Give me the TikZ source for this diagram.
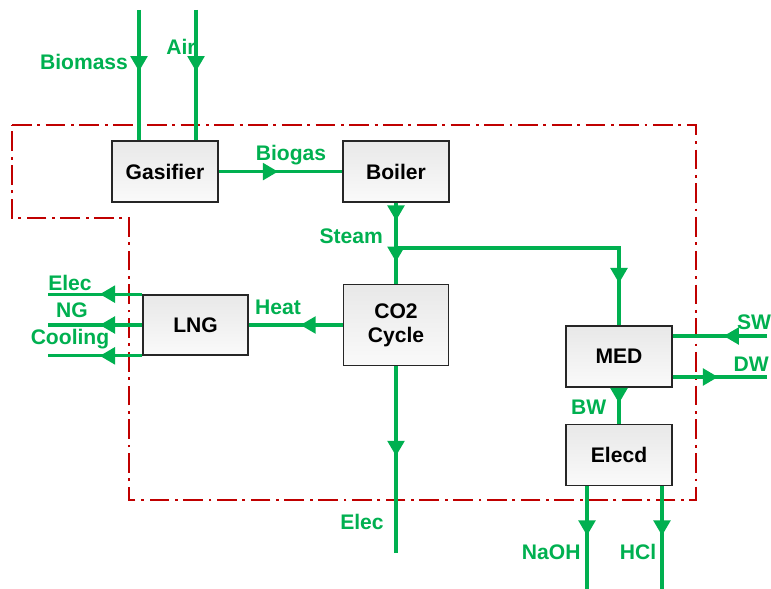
\documentclass[tikz,border=0pt]{standalone}
\usepackage{fontspec}
\setmainfont{Liberation Sans}
\definecolor{flowgreen}{RGB}{0,176,80}
\definecolor{bndred}{RGB}{192,0,0}
\usetikzlibrary{arrows.meta,positioning,calc,decorations.markings}

\begin{document}
\begin{tikzpicture}[every node/.style={font=\bfseries\fontsize{15}{17}\selectfont},
    unit/.style={draw=black!85,line width=1.2pt,top color=black!9,bottom color=black!2,
                 minimum width=2.65cm,minimum height=1.52cm,inner sep=0pt,align=center},
    flow/.style={flowgreen,line width=2.2pt},
    tip/.style={postaction={decorate,decoration={markings,
                mark=at position #1 with {\arrow{Triangle[length=0.38cm,width=0.42cm]}}}}},
    lbl/.style={text=flowgreen,inner sep=0pt},
    bound/.style={bndred,line width=1.4pt,dash pattern=on 14pt off 4pt on 2pt off 4pt}]

  \useasboundingbox (0,0) rectangle (19.275,-14.725);

  % system boundary
  \draw[bound] (0.3,-3.125) -- (17.4,-3.125) -- (17.4,-12.5) -- (3.225,-12.5)
        -- (3.225,-5.45) -- (0.3,-5.45) -- cycle;

  \node[unit] (gas)    at (4.125,-4.29)  {Gasifier};
  \node[unit] (boiler) at (9.9,-4.29)    {Boiler};
  \node[unit,minimum width=2.625cm,minimum height=1.5cm] (lng) at (4.89,-8.125) {LNG};
  \node[unit,minimum width=2.625cm,minimum height=2.03cm] (co2) at (9.9,-8.125) {CO2\\Cycle};
  \node[unit] (med)    at (15.475,-8.91)  {MED};
  \node[unit] (elecd)  at (15.475,-11.375) {Elecd};

  % free ends
  \coordinate (bioin)  at (3.475,-0.25);
  \coordinate (airin)  at (4.9,-0.25);
  \coordinate (split)  at (9.9,-6.2);
  \coordinate (lngout) at (1.2,-8.125);
  \coordinate (elecout) at (9.9,-13.825);
  \coordinate (swin)   at (19.175,-8.4);
  \coordinate (dwout)  at (19.175,-9.425);
  \coordinate (naohout) at (14.675,-14.725);
  \coordinate (hclout) at (16.55,-14.725);

  \draw[flow,tip=0.47] (bioin) -- (bioin |- gas.north);
  \draw[flow,tip=0.47] (airin) -- (airin |- gas.north);
  \draw[flow,tip=0.48] (gas.east) -- (boiler.west);
  \draw[flow,tip=0.22,tip=0.73] (boiler.south) -- (co2.north);
  \draw[flow,tip=0.86] (split) -| (med.north);
  \draw[flow,tip=0.45] (co2.west) -- (lng.east);
  \draw[flow,tip=0.45] (lng.north west) -- (lng.north west -| lngout);
  \draw[flow,tip=0.45] (lng.west) -- (lngout);
  \draw[flow,tip=0.45] (lng.south west) -- (lng.south west -| lngout);
  \draw[flow,tip=0.48] (co2.south) -- (elecout);
  \draw[flow,tip=0.46] (swin) -- (swin -| med.east);
  \draw[flow,tip=0.48] (dwout -| med.east) -- (dwout);
  \draw[flow,tip=0.43] (med.south) -- (elecd.north);
  \draw[flow,tip=0.48] (naohout |- elecd.south) -- (naohout);
  \draw[flow,tip=0.48] (hclout |- elecd.south) -- (hclout);

  % stream labels
  \node[lbl] (lblbio)    at (2.1,-1.55)    {Biomass};
  \node[lbl] (lblair)    at (4.525,-1.175) {Air};
  \node[lbl] (lblbiogas) at (7.275,-3.875) {Biogas};
  \node[lbl] (lblsteam)  at (8.78,-5.9)    {Steam};
  \node[lbl] (lblheat)   at (6.95,-7.675)  {Heat};
  \node[lbl] (lblelecA)  at (1.75,-7.075)  {Elec};
  \node[lbl] (lblng)     at (1.8,-7.75)    {NG};
  \node[lbl] (lblcool)   at (1.75,-8.475)  {Cooling};
  \node[lbl] (lblelecB)  at (9.05,-13.05)  {Elec};
  \node[lbl] (lblsw)     at (18.85,-8.05)  {SW};
  \node[lbl] (lbldw)     at (18.78,-9.1)   {DW};
  \node[lbl] (lblbw)     at (14.72,-10.175) {BW};
  \node[lbl] (lblnaoh)   at (13.78,-13.8)  {NaOH};
  \node[lbl] (lblhcl)    at (15.95,-13.8)  {HCl};
\end{tikzpicture}
\end{document}
